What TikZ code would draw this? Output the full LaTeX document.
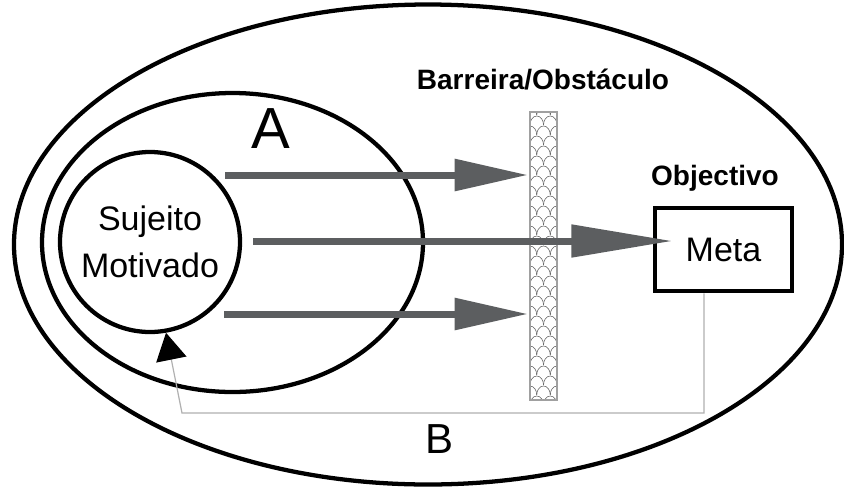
\documentclass[tikz,border=0pt]{standalone}
\usepackage{fontspec}
\setmainfont{Liberation Sans}
\usetikzlibrary{arrows.meta,calc,shapes.geometric}
\definecolor{pushgray}{HTML}{5C5E60}
\definecolor{loopgray}{HTML}{B0B0B0}
\definecolor{scalegray}{HTML}{5E5E5E}
\definecolor{walledge}{HTML}{A0A0A0}

\begin{document}
\begin{tikzpicture}[x=0.75pt,y=-0.75pt,
  ring/.style={draw=black,line width=3.2pt,inner sep=0pt},
  plain/.style={inner sep=0pt,font=\fontsize{25.5}{35.25}\selectfont,align=center},
  headtext/.style={inner sep=0pt,anchor=base,font=\fontsize{21}{25}\selectfont\bfseries},
  push/.style={draw=pushgray,line width=5.25pt},
  shorthead/.style={-{Triangle[length=55pt,width=23pt,color=pushgray]}},
  longhead/.style={-{Triangle[length=76pt,width=23.5pt,color=pushgray]}},
  feedback/.style={draw=loopgray,line width=0.9pt,
    -{Triangle[length=20.5pt,width=23pt,color=black]}},
  goalbox/.style={draw=black,line width=3.4pt,minimum width=102.75pt,
    minimum height=62.25pt,inner sep=0pt,
    font=\fontsize{25.5}{30}\selectfont},
  wall/.style={draw=walledge,line width=0.8pt,minimum width=20.25pt,
    minimum height=216pt,inner sep=0pt},
  fishscale/.style={draw=scalegray,line width=0.4pt}
]
\fill[white] (0,0) rectangle (844,487);
\useasboundingbox (0,0) rectangle (844,487);

% environment, field A and the motivated subject
\node[ring,ellipse,minimum width=621pt,minimum height=360pt] (world) at (428,244.5) {};
\node[ring,ellipse,minimum width=285.75pt,minimum height=224.25pt] (field) at (232.5,242.5) {};
\node[ring,circle,minimum size=135pt,plain] (subj) at (150,242) {Sujeito\\Motivado};

% barrier filled with overlapping fish scales
\node[wall] (barrier) at (543.5,256) {};
\begin{scope}
  \clip (barrier.south west) rectangle (barrier.north east);
  \foreach \k in {0,...,30}{
    \pgfmathsetmacro{\rowy}{115+10*\k}
    \pgfmathsetmacro{\shift}{mod(\k,2)*6.75}
    \foreach \j in {-1,0,1,2}{
      \draw[fishscale] ({523.25+\shift+13.5*\j},\rowy)
        arc[start angle=180,end angle=360,x radius=6.75,y radius=9];
    }
  }
\end{scope}
\node[wall] (barrierframe) at (barrier) {};

% goal
\node[goalbox] (meta) at (723.5,249.5) {Meta};

% labels
\node[headtext] (barlabel) at (543,89) {Barreira/Obstáculo};
\node[headtext] (goallabel) at (715,185) {Objectivo};
\node[inner sep=0pt,anchor=base,font=\fontsize{43.5}{50}\selectfont] (alabel) at (271,148) {A};
\node[inner sep=0pt,anchor=base,font=\fontsize{31.5}{36}\selectfont] (blabel) at (440,453) {B};

% driving forces
\coordinate (upstart) at (225,175);
\coordinate (midstart) at (253,241);
\coordinate (lowstart) at (224,314);
\draw[push,shorthead] (upstart) -- ($(upstart -| barrier.west)+(-1.5,0)$);
\draw[push,longhead] (midstart) -- ($(midstart -| meta.west)+(20,0)$);
\draw[push,shorthead] (lowstart) -- ($(lowstart -| barrier.west)+(-1.5,0)$);

% feedback loop B
\coordinate (fbdrop) at ($(meta.south)+(-19.5,0)$);
\coordinate (fbcorner) at (182,413);
\draw[feedback] (fbdrop) |- (fbcorner) -- (subj.-80.6);
\end{tikzpicture}
\end{document}
